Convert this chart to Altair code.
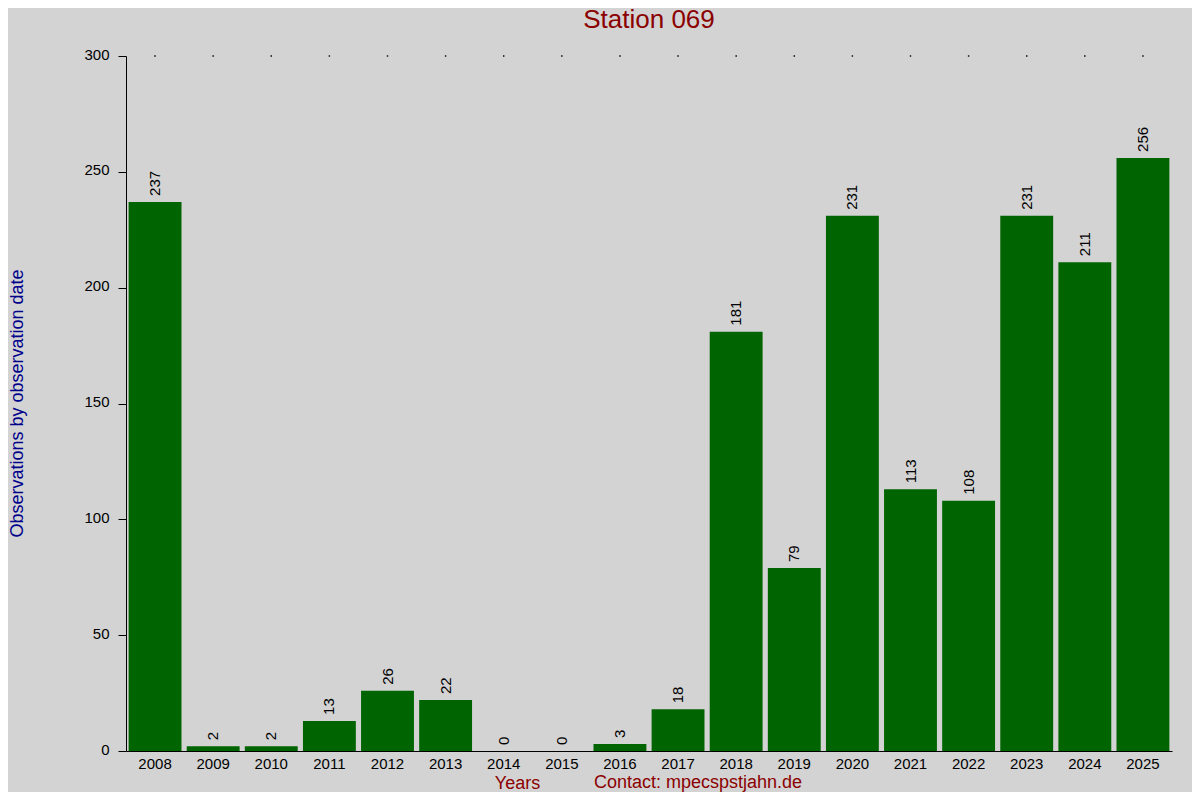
import altair as alt
import pandas as pd

years = ["2008", "2009", "2010", "2011", "2012", "2013", "2014", "2015", "2016",
         "2017", "2018", "2019", "2020", "2021", "2022", "2023", "2024", "2025"]
counts = [237, 2, 2, 13, 26, 22, 0, 0, 3, 18, 181, 79, 231, 113, 108, 231, 211, 256]
y_ticks = [0, 50, 100, 150, 200, 250, 300]

df = pd.DataFrame({"year": years, "count": counts})
FONT = "Liberation Sans"

x_enc = alt.X("year:N", sort=years,
              scale=alt.Scale(paddingInner=0.09, paddingOuter=0.045),
              axis=alt.Axis(title="Years", ticks=False, labelAngle=0, labelPadding=5,
                            labelFontSize=15, labelColor="black", labelFont=FONT,
                            domainColor="black", titleColor="#8b0000", titleFont=FONT,
                            titleFontSize=18, titleFontWeight="normal",
                            titleX=391, titleY=32, titleAlign="center",
                            titleBaseline="middle"))
y_enc = alt.Y("count:Q", scale=alt.Scale(domain=[0, 300], nice=False),
              axis=alt.Axis(values=y_ticks, grid=False, title="Observations by observation date",
                            tickSize=8, tickColor="black", domainColor="black",
                            labelFontSize=15, labelColor="black", labelFont=FONT,
                            labelPadding=9, labelOffset=-2,
                            titleColor="#00008b", titleFont=FONT, titleFontSize=18,
                            titleFontWeight="normal", titleAngle=270, titleX=-109,
                            titleY=347, titleAlign="center", titleBaseline="middle"))

base = alt.Chart(df)
bars = base.mark_bar(color="#006400").encode(x=x_enc, y=y_enc)
labels = base.mark_text(angle=270, align="left", baseline="middle", dx=6,
                        fontSize=15, font=FONT, color="black").encode(
    x=alt.X("year:N", sort=years), y="count:Q", text="count:Q")
dots = base.mark_square(size=2, color="black", opacity=1).encode(
    x=alt.X("year:N", sort=years), y=alt.datum(300))
contact = alt.Chart(pd.DataFrame({"t": ["Contact: mpecspstjahn.de"]})).mark_text(
    font=FONT, fontSize=18, color="#8b0000", align="center", baseline="middle").encode(
    text="t:N", x=alt.value(572), y=alt.value(727))

chart = alt.layer(bars, labels, dots, contact).properties(
    width=1046, height=695,
    background="#d3d3d3",
    padding={"left": 118, "top": 48, "right": 20, "bottom": 41},
    autosize=alt.AutoSizeParams(type="none"),
    title=alt.TitleParams("Station 069", font=FONT, fontSize=26, fontWeight="normal",
                          color="#8b0000", anchor="middle", offset=14),
).configure_view(stroke=None)

chart.save("out.html", embed_options={"renderer": "svg", "actions": False})
